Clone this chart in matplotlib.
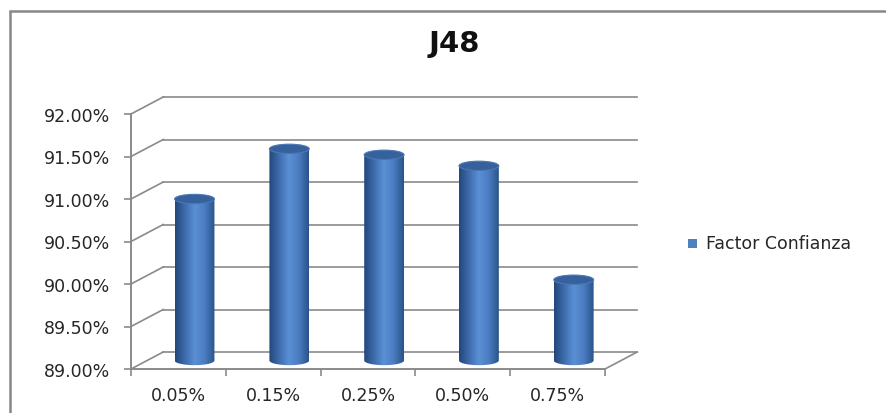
import numpy as np
import matplotlib
matplotlib.use('Agg')
import matplotlib.pyplot as plt
from matplotlib.path import Path
from matplotlib.patches import PathPatch, Ellipse, Rectangle
from matplotlib.colors import LinearSegmentedColormap

# ---- datos ----
categorias = ['0.05%', '0.15%', '0.25%', '0.50%', '0.75%']
factor_confianza = [90.90, 91.49, 91.42, 91.29, 89.95]
y_ticks = [89.0, 89.5, 90.0, 90.5, 91.0, 91.5, 92.0]
titulo = 'J48'
serie = 'Factor Confianza'

plt.rcParams['font.family'] = ['DejaVu Sans']
fig = plt.figure(figsize=(8.87, 4.14), dpi=100)

# marco del grafico
fig.patches.append(Rectangle((10 / 887, -0.05), 1.0, 1.05 - 12 / 414,
                             transform=fig.transFigure, fill=False,
                             edgecolor='#878787', lw=1.8))

ax = fig.add_axes([131 / 887, 44 / 414, 474 / 887, 255 / 414])
ymin, ymax = 89.0, 92.0
xmin, xmax = -0.5, len(categorias) - 0.5
# profundidad 3D en unidades de datos
dx = 0.34
dy = 0.20
grid_c = '#8a8a8a'

# pared del fondo + diagonales
for t in y_ticks:
    ax.plot([xmin + dx, xmax + dx], [t + dy, t + dy], color=grid_c, lw=1.2, clip_on=False, zorder=1)
    ax.plot([xmin, xmin + dx], [t, t + dy], color=grid_c, lw=1.2, clip_on=False, zorder=1)
ax.plot([xmax, xmax + dx], [ymin, ymin + dy], color=grid_c, lw=1.2, clip_on=False, zorder=1)

# cilindros
cmap = LinearSegmentedColormap.from_list('cil', ['#23467a', '#3d6cad', '#5b90d5', '#4a7cc0', '#2a5389'])
grad = np.linspace(0, 1, 256).reshape(1, -1)
w = 0.42
eh = 0.11
th = np.linspace(np.pi, 2 * np.pi, 40)
for i, v in enumerate(factor_confianza):
    cx = i + dx / 2
    base = ymin + dy / 2
    top = v + dy / 2
    xs = [cx - w / 2] + list(cx + w / 2 * np.cos(th)) + [cx + w / 2, cx - w / 2]
    ys = [top] + list(base + eh / 2 * np.sin(th)) + [top, top]
    body = PathPatch(Path(np.column_stack([xs, ys])), facecolor='none', edgecolor='none',
                     transform=ax.transData)
    ax.add_patch(body)
    im = ax.imshow(grad, cmap=cmap, aspect='auto', interpolation='bilinear',
                   extent=[cx - w / 2, cx + w / 2, base - eh, top], zorder=3)
    im.set_clip_path(body)
    ax.add_patch(Ellipse((cx, top), w, eh, facecolor='#36619c', edgecolor='#4a78b6',
                         lw=0.8, zorder=4))

ax.set_xlim(xmin, xmax)
ax.set_ylim(ymin, ymax)

for s in ['top', 'right']:
    ax.spines[s].set_visible(False)
for s in ['left', 'bottom']:
    ax.spines[s].set_color(grid_c)
    ax.spines[s].set_linewidth(1.4)

ax.set_yticks(y_ticks)
ax.set_yticklabels(['%.2f%%' % t for t in y_ticks])
ax.tick_params(axis='y', length=5, width=1.2, color=grid_c, pad=10,
               labelsize=12.5, labelcolor='#262626')
ax.set_xticks(np.arange(len(categorias) + 1) - 0.5)
ax.set_xticklabels([])
ax.set_xticks(np.arange(len(categorias)), minor=True)
ax.set_xticklabels(categorias, minor=True)
ax.tick_params(axis='x', which='major', length=5, width=1.2, color=grid_c)
ax.tick_params(axis='x', which='minor', length=0, pad=12, labelsize=12.5, labelcolor='#262626')

fig.text(454 / 887, 1 - 44 / 414, titulo, ha='center', va='center',
         fontsize=21, fontweight='bold', color='#111111')

# leyenda
fig.patches.append(Rectangle((688 / 887, 1 - 249 / 414), 9 / 887, 9 / 414,
                             transform=fig.transFigure, facecolor='#4f81bd', edgecolor='none'))
fig.text(706 / 887, 1 - 244 / 414, serie, ha='left', va='center', fontsize=12.5, color='#262626')

fig.savefig('out.png', dpi=100)
